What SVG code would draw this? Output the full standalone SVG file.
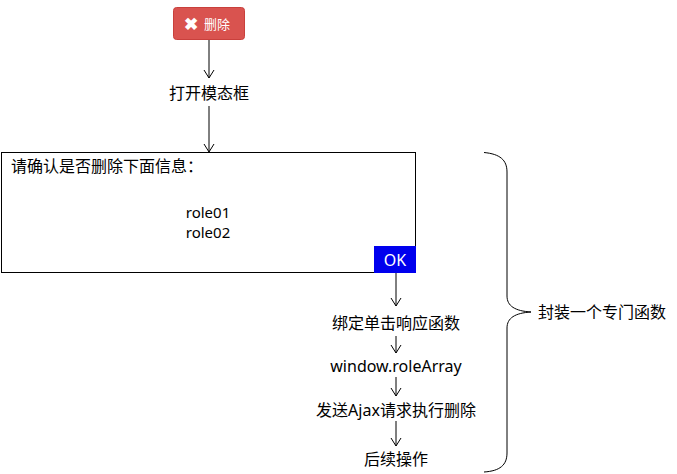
<svg xmlns="http://www.w3.org/2000/svg" width="677" height="474" viewBox="0 0 677 474">
<defs>
<marker id="arr" viewBox="0 0 12 12" refX="11" refY="6" markerWidth="12" markerHeight="12" markerUnits="userSpaceOnUse" orient="auto">
<path d="M3,1 L11,6 L3,11" fill="none" stroke="#000" stroke-width="1"/>
</marker>
<style>
text{font-family:"Noto Sans","Noto Sans CJK SC",sans-serif;fill:#000}
.lbl{font-size:16px;text-anchor:middle;dominant-baseline:central}
.c{stroke:#000;stroke-width:1;fill:none}
</style>
</defs>
<rect width="677" height="474" fill="#fff"/>
<g id="delete-btn">
<rect x="173.5" y="7.5" width="71" height="32" rx="3" fill="#d9534f" stroke="#c9403c"/>
<text x="191" y="23.5" font-size="17" font-weight="bold" text-anchor="middle" dominant-baseline="central" style="fill:#fff">✖</text>
<text x="217" y="23.5" font-size="13" text-anchor="middle" dominant-baseline="central" style="fill:#fff">删除</text>
</g>
<g id="open-modal">
<text class="lbl" x="209" y="93">打开模态框</text>
</g>
<g id="modal">
<rect x="1.5" y="152.5" width="414" height="120" fill="#fff" stroke="#000"/>
<text x="11" y="172" font-size="16">请确认是否删除下面信息：</text>
<text x="208" y="218" font-size="15" text-anchor="middle">role01</text>
<text x="208" y="238" font-size="15" text-anchor="middle">role02</text>
</g>
<g id="ok-btn">
<rect x="374" y="246" width="42" height="27" fill="#0000ee"/>
<text x="395" y="260" font-size="16" text-anchor="middle" dominant-baseline="central" style="fill:#fff">OK</text>
</g>
<g id="bind">
<text class="lbl" x="396" y="323">绑定单击响应函数</text>
</g>
<g id="rolearray">
<text class="lbl" x="396" y="366">window.roleArray</text>
</g>
<g id="ajax">
<text class="lbl" x="396" y="410">发送Ajax请求执行删除</text>
</g>
<g id="after">
<text class="lbl" x="396" y="459">后续操作</text>
</g>
<g id="brace">
<path class="c" d="M484,152.5 C500,154 507,160 507,172 L507,296 C507,306 515,311 531,312 C515,313 507,318 507,328 L507,453 C507,465 500,471 484,472"/>
<text x="538" y="312" font-size="16" dominant-baseline="central">封装一个专门函数</text>
</g>
<g id="connectors">
<line class="c" x1="209" y1="40" x2="209" y2="78" marker-end="url(#arr)"/>
<line class="c" x1="209" y1="106" x2="209" y2="152" marker-end="url(#arr)"/>
<line class="c" x1="396" y1="273" x2="396" y2="306" marker-end="url(#arr)"/>
<line class="c" x1="396" y1="336" x2="396" y2="353" marker-end="url(#arr)"/>
<line class="c" x1="396" y1="377" x2="396" y2="396" marker-end="url(#arr)"/>
<line class="c" x1="396" y1="421" x2="396" y2="446" marker-end="url(#arr)"/>
</g>
</svg>
